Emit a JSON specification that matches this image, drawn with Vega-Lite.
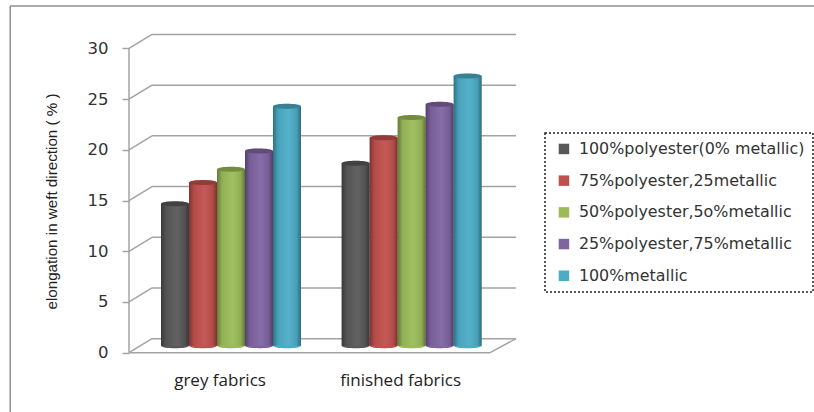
{
  "$schema": "https://vega.github.io/schema/vega-lite/v6.json",
  "width": 814,
  "height": 412,
  "padding": 0,
  "autosize": {"type": "none"},
  "background": "#ffffff",
  "datasets": {
    "levels": [{"value": 0}, {"value": 5}, {"value": 10}, {"value": 15}, {"value": 20}, {"value": 25}, {"value": 30}],
    "results": [
      {"fabric": "grey fabrics", "blend": "100%polyester(0% metallic)", "elongation": 14.0},
      {"fabric": "grey fabrics", "blend": "75%polyester,25metallic", "elongation": 16.1},
      {"fabric": "grey fabrics", "blend": "50%polyester,5o%metallic", "elongation": 17.4},
      {"fabric": "grey fabrics", "blend": "25%polyester,75%metallic", "elongation": 19.2},
      {"fabric": "grey fabrics", "blend": "100%metallic", "elongation": 23.6},
      {"fabric": "finished fabrics", "blend": "100%polyester(0% metallic)", "elongation": 18.0},
      {"fabric": "finished fabrics", "blend": "75%polyester,25metallic", "elongation": 20.5},
      {"fabric": "finished fabrics", "blend": "50%polyester,5o%metallic", "elongation": 22.5},
      {"fabric": "finished fabrics", "blend": "25%polyester,75%metallic", "elongation": 23.8},
      {"fabric": "finished fabrics", "blend": "100%metallic", "elongation": 26.6}
    ]
  },
  "layer": [
    {
      "description": "Box walls: the x scale runs 0 at the front axis to 1 at the back right corner",
      "layer": [
        {
          "data": {"name": "levels"},
          "mark": {"type": "rule", "color": "#a3a3a3", "strokeWidth": 1.5, "yOffset": -14},
          "encoding": {
            "x": {"datum": 0.0595, "type": "quantitative", "scale": {"domain": [0, 1], "range": [129, 516], "nice": false, "zero": false}, "axis": null},
            "x2": {"datum": 1},
            "y": {
              "field": "value", "type": "quantitative",
              "scale": {"domain": [-5.85, 34.78], "nice": false, "zero": false},
              "axis": {
                "orient": "left", "offset": -129, "values": [0, 5, 10, 15, 20, 25, 30],
                "grid": false, "domain": false, "ticks": true, "tickSize": 7, "tickWidth": 1.5, "tickColor": "#a3a3a3",
                "labelFont": "DejaVu Sans", "labelFontSize": 16.5, "labelColor": "#333333", "labelPadding": 14,
                "title": "elongation in weft direction ( % )", "titleFont": "Liberation Sans", "titleFontSize": 15.2,
                "titleFontWeight": "normal", "titleColor": "#222222", "titleX": -70, "titleY": 201
              }
            }
          }
        },
        {
          "data": {"name": "levels"},
          "mark": {"type": "rule", "color": "#a3a3a3", "strokeWidth": 1.5, "y2Offset": -14},
          "encoding": {
            "x": {"datum": 0},
            "x2": {"datum": 0.0595},
            "y": {"field": "value", "type": "quantitative"},
            "y2": {"field": "value"}
          }
        },
        {
          "data": {"values": [{}]},
          "mark": {"type": "rule", "color": "#a3a3a3", "strokeWidth": 1.5},
          "encoding": {"x": {"datum": 0}, "y": {"datum": 0}, "y2": {"datum": 30}}
        },
        {
          "data": {"values": [{}]},
          "mark": {"type": "rule", "color": "#a3a3a3", "strokeWidth": 1.5},
          "encoding": {"x": {"datum": 0}, "x2": {"datum": 0.933}, "y": {"datum": 0}}
        },
        {
          "data": {"values": [{}]},
          "mark": {"type": "rule", "color": "#a3a3a3", "strokeWidth": 1.5, "y2Offset": -14},
          "encoding": {"x": {"datum": 0.933}, "x2": {"datum": 1}, "y": {"datum": 0}, "y2": {"datum": 0}}
        },
        {
          "description": "Outer chart frame, left and top edges",
          "data": {"values": [{}]},
          "mark": {"type": "rule", "color": "#8f8f8f", "strokeWidth": 1.5},
          "encoding": {"x": {"datum": -0.307}, "y": {"datum": -5.85}, "y2": {"datum": 34.2}}
        },
        {
          "data": {"values": [{}]},
          "mark": {"type": "rule", "color": "#8f8f8f", "strokeWidth": 1.5},
          "encoding": {"x": {"datum": -0.307}, "x2": {"datum": 1.77}, "y": {"datum": 34.2}}
        }
      ]
    },
    {
      "description": "Cylinders: colour base, base ellipse, gradient shading, darker top ellipse",
      "data": {"name": "results"},
      "encoding": {
        "x": {
          "field": "fabric", "type": "nominal",
          "scale": {"domain": ["grey fabrics", "finished fabrics"], "range": [140.7, 502], "paddingInner": 0, "paddingOuter": 0},
          "axis": {
            "orient": "bottom", "offset": -40, "title": null, "domain": false, "ticks": false, "labelAngle": 0,
            "labelOffset": -11, "labelPadding": 0, "labelFont": "Open Sans", "labelFontSize": 17, "labelColor": "#222222"
          }
        },
        "xOffset": {
          "field": "blend", "type": "nominal",
          "scale": {
            "domain": ["100%polyester(0% metallic)", "75%polyester,25metallic", "50%polyester,5o%metallic", "25%polyester,75%metallic", "100%metallic"],
            "range": [20.3, 160.3], "paddingInner": 0, "paddingOuter": 0
          }
        },
        "y": {"field": "elongation", "type": "quantitative"}
      },
      "layer": [
        {
          "mark": {"type": "bar", "yOffset": -7, "y2Offset": -7},
          "encoding": {
            "y2": {"datum": 0},
            "fill": {
              "field": "blend", "type": "nominal",
              "scale": {
                "domain": ["100%polyester(0% metallic)", "75%polyester,25metallic", "50%polyester,5o%metallic", "25%polyester,75%metallic", "100%metallic"],
                "range": ["#585858", "#c0504d", "#9bbb59", "#8064a2", "#4bacc6"]
              },
              "legend": {
                "orient": "none", "legendX": 545, "legendY": 133, "title": null, "symbolType": "square", "symbolSize": 110,
                "symbolStrokeWidth": 0, "symbolOffset": 3, "labelFont": "DejaVu Sans", "labelFontSize": 15.9, "labelColor": "#333333", "labelLimit": 300,
                "labelOffset": 7, "rowPadding": 14.7, "padding": 8, "strokeColor": "#222222"
              }
            }
          }
        },
        {
          "mark": {"type": "point", "filled": true, "opacity": 1, "size": 784, "shape": "M-1,0C-1,-0.24,1,-0.24,1,0C1,0.24,-1,0.24,-1,0Z", "yOffset": -7},
          "encoding": {
            "y": {"datum": 0},
            "fill": {"field": "blend", "type": "nominal"}
          }
        },
        {
          "mark": {
            "type": "bar", "yOffset": -7, "y2Offset": -7,
            "fill": {"gradient": "linear", "x1": 0, "y1": 0, "x2": 1, "y2": 0, "stops": [
              {"offset": 0, "color": "rgba(0,0,0,0.35)"},
              {"offset": 0.18, "color": "rgba(0,0,0,0.06)"},
              {"offset": 0.55, "color": "rgba(255,255,255,0.06)"},
              {"offset": 0.85, "color": "rgba(0,0,0,0.08)"},
              {"offset": 1, "color": "rgba(0,0,0,0.38)"}
            ]}
          },
          "encoding": {"y2": {"datum": 0}}
        },
        {
          "mark": {"type": "point", "filled": true, "opacity": 1, "size": 784, "shape": "M-1,0C-1,-0.24,1,-0.24,1,0C1,0.24,-1,0.24,-1,0Z", "yOffset": -7},
          "encoding": {"fill": {"field": "blend", "type": "nominal"}}
        },
        {
          "mark": {"type": "point", "filled": true, "opacity": 0.25, "color": "#000000", "size": 784, "shape": "M-1,0C-1,-0.24,1,-0.24,1,0C1,0.24,-1,0.24,-1,0Z", "yOffset": -7}
        }
      ]
    }
  ],
  "resolve": {"scale": {"x": "independent"}},
  "config": {
    "view": {"stroke": null},
    "legend": {"strokeDash": [2, 2], "strokeWidth": 1.5}
  }
}
